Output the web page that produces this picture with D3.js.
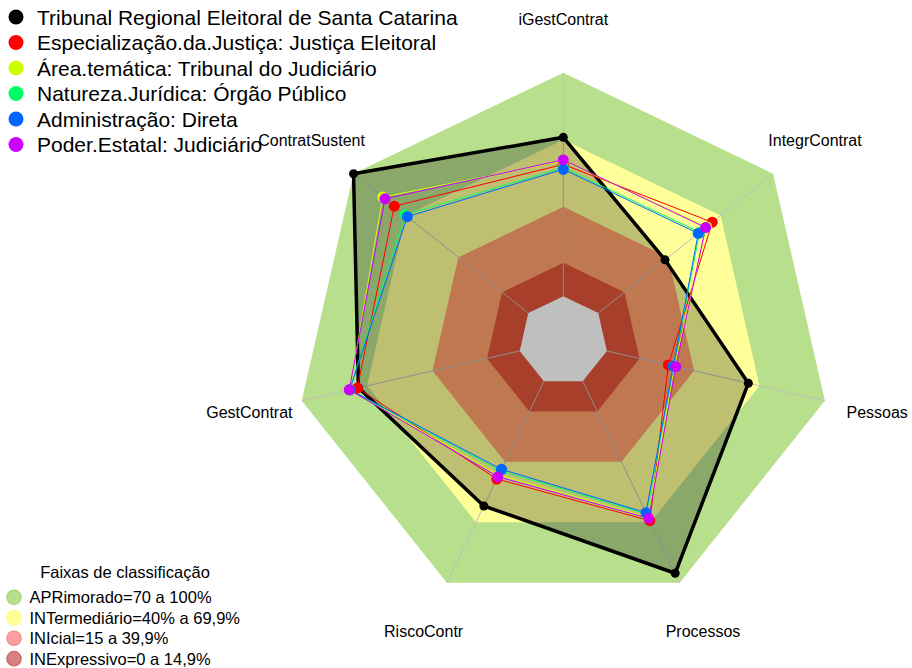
<!DOCTYPE html>
<html>
<head>
<meta charset="utf-8">
<script src="https://cdn.jsdelivr.net/npm/d3@7/dist/d3.min.js"></script>
<style>
  html, body { margin: 0; padding: 0; background: #ffffff; }
  svg { display: block; font-family: "Liberation Sans", Arial, Helvetica, sans-serif; }
</style>
</head>
<body>
<svg id="chart" width="912" height="668"></svg>
<script>
// Indicator axes, clockwise from the top
const axes = ["iGestContrat", "IntegrContrat", "Pessoas", "Processos", "RiscoContr", "GestContrat", "ContratSustent"];

// Series names (legend order) and their scores in % per axis
const seriesNames = [
  "Tribunal Regional Eleitoral de Santa Catarina",
  "Especialização.da.Justiça: Justiça Eleitoral",
  "Área.temática: Tribunal do Judiciário",
  "Natureza.Jurídica: Órgão Público",
  "Administração: Direta",
  "Poder.Estatal: Judiciário"
];
const trescValues      = [71.1, 38.2, 64.9, 95.3, 61.9, 74.0, 100];
const especialValues   = [59.0, 65.2, 28.2, 69.2, 48.5, 74.5, 76.7];
const areaValues       = [60.5, 62.0, 31.0, 67.5, 46.5, 78.0, 83.3];
const naturezaValues   = [57.5, 58.0, 30.5, 65.8, 44.5, 78.0, 70.5];
const administValues   = [56.8, 57.2, 30.5, 65.2, 43.7, 78.0, 69.2];
const poderValues      = [61.0, 61.4, 31.6, 68.0, 47.4, 78.2, 82.0];
const seriesColors = ["#000000", "#FF0000", "#CCFF00", "#00FF66", "#0066FF", "#CC00FF"];

// Classification bands (upper limit of each band, in %)
const bandNames  = ["APRimorado=70 a 100%", "INTermediário=40% a 69,9%", "INIcial=15 a 39,9%", "INExpressivo=0 a 14,9%"];
const bandLimits = [100, 70, 40, 15];
const bandFills  = ["#B8E08C", "#FFFF99", "#FFA06B", "#E05538"];
const bandKeyFills = ["#B8E08C", "#FFFF99", "#FF9E9E", "#D98080"];
const bandKeyEdges = ["#A3D475", "#FFFF70", "#F58888", "#C96A6A"];

const svg = d3.select("#chart");
const cx = 563.3, cy = 341, R = 268.3;
const n = axes.length;

// radial scale: 0 % sits on the inner gap ring, 100 % on the outer ring
const r = d3.scaleLinear().domain([0, 100]).range([R / 6, R]);
const angle = d3.scaleLinear().domain([0, n]).range([0, 2 * Math.PI]);

const pt = (i, rad) => [cx + rad * Math.sin(angle(i)), cy - rad * Math.cos(angle(i))];
const ring = rad => d3.range(n).map(i => pt(i, rad));
const line = d3.line().curve(d3.curveLinearClosed);

const g = svg.append("g");

// bands, outermost first
bandLimits.forEach((lim, k) => {
  g.append("path").attr("d", line(ring(r(lim)))).attr("fill", bandFills[k]);
});
// inner gap
g.append("path").attr("d", line(ring(r(0)))).attr("fill", "#ffffff");

// axis spokes
axes.forEach((a, i) => {
  const p0 = pt(i, r(0)), p1 = pt(i, r(100));
  g.append("line")
    .attr("x1", p0[0]).attr("y1", p0[1]).attr("x2", p1[0]).attr("y2", p1[1])
    .attr("stroke", "#BEBEBE").attr("stroke-width", 1);
});

// axis labels
axes.forEach((a, i) => {
  const p = pt(i, R * 1.2);
  g.append("text")
    .attr("x", p[0]).attr("y", p[1]).attr("dy", "0.35em")
    .attr("text-anchor", "middle")
    .attr("font-size", 16).attr("fill", "#000")
    .text(a);
});

const allSeries = [trescValues, especialValues, areaValues, naturezaValues, administValues, poderValues];

// main organisation: filled polygon with heavy outline
const mainPts = trescValues.map((v, i) => pt(i, r(v)));
g.append("path").attr("d", line(mainPts))
  .attr("fill", "rgba(0,0,0,0.25)")
  .attr("stroke", "#000").attr("stroke-width", 3.5).attr("stroke-linejoin", "round");
g.selectAll(".mainDot").data(mainPts).enter().append("circle")
  .attr("cx", d => d[0]).attr("cy", d => d[1]).attr("r", 4.5).attr("fill", "#000");

// comparison groups: thin outlines with dots
allSeries.slice(1).forEach((vals, s) => {
  const col = seriesColors[s + 1];
  const pts = vals.map((v, i) => pt(i, r(v)));
  g.append("path").attr("d", line(pts))
    .attr("fill", "none").attr("stroke", col).attr("stroke-width", 1);
});
allSeries.slice(1).forEach((vals, s) => {
  const col = seriesColors[s + 1];
  const pts = vals.map((v, i) => pt(i, r(v)));
  g.selectAll(null).data(pts).enter().append("circle")
    .attr("cx", d => d[0]).attr("cy", d => d[1]).attr("r", 5.5).attr("fill", col);
});

// series legend (top left)
const leg = svg.append("g");
seriesNames.forEach((name, k) => {
  const y = 17 + k * 25.5;
  leg.append("circle").attr("cx", 16).attr("cy", y).attr("r", 7.5).attr("fill", seriesColors[k]);
  leg.append("text").attr("x", 37).attr("y", y).attr("dy", "0.36em")
    .attr("font-size", 21).attr("fill", "#000").text(name);
});

// band legend (bottom left)
const bleg = svg.append("g");
bleg.append("text").attr("x", 125).attr("y", 572).attr("dy", "0.35em")
  .attr("text-anchor", "middle").attr("font-size", 16.5).attr("fill", "#000")
  .text("Faixas de classificação");
bandNames.forEach((name, k) => {
  const y = 597.3 + k * 20.45;
  bleg.append("circle").attr("cx", 14).attr("cy", y).attr("r", 7.2)
    .attr("fill", bandKeyFills[k]).attr("stroke", bandKeyEdges[k]).attr("stroke-width", 1.2);
  bleg.append("text").attr("x", 29.5).attr("y", y).attr("dy", "0.36em")
    .attr("font-size", 16.5).attr("fill", "#000").text(name);
});
</script>
</body>
</html>
